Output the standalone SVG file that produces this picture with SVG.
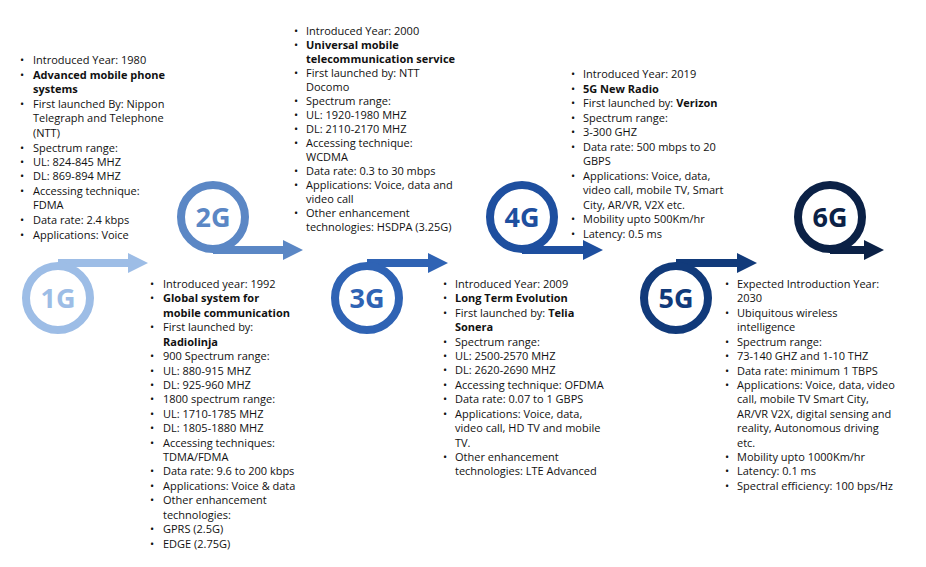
<svg xmlns="http://www.w3.org/2000/svg" width="926" height="567" viewBox="0 0 926 567">
<style>
text{font-family:"Open Sans","Noto Sans",sans-serif;font-size:11px;fill:#111}
.b{font-weight:bold}
text.g{font-size:27px;font-weight:bold;text-anchor:middle}
.ring{fill:none;stroke-width:8}
</style>
<rect width="926" height="567" fill="#fff"/>
<g id="connectors">
<path d="M58,259 H128 V253 L148,263 L128,273 V267 H58Z" fill="#9dbde6"/>
<path d="M213,246 H283 V240 L303,250 L283,260 V254 H213Z" fill="#5b87c5"/>
<path d="M367,259 H428 V253 L448,263 L428,273 V267 H367Z" fill="#2f63b4"/>
<path d="M522,246 H583 V240 L603,250 L583,260 V254 H522Z" fill="#1e4f9f"/>
<path d="M676,259 H737 V253 L757,263 L737,273 V267 H676Z" fill="#113a7a"/>
<path d="M830,246 H864 V240 L884,250 L864,260 V254 H830Z" fill="#0b2146"/>
</g>
<g id="n1g"><circle cx="58" cy="298" r="32" class="ring" stroke="#9dbde6"/><text x="58" y="308" class="g" style="fill:#9dbde6">1G</text></g>
<g id="n2g"><circle cx="213" cy="217" r="32" class="ring" stroke="#5b87c5"/><text x="213" y="227" class="g" style="fill:#5b87c5">2G</text></g>
<g id="n3g"><circle cx="367" cy="298" r="32" class="ring" stroke="#2f63b4"/><text x="367" y="308" class="g" style="fill:#2f63b4">3G</text></g>
<g id="n4g"><circle cx="522" cy="217" r="32" class="ring" stroke="#1e4f9f"/><text x="522" y="227" class="g" style="fill:#1e4f9f">4G</text></g>
<g id="n5g"><circle cx="676" cy="298" r="32" class="ring" stroke="#113a7a"/><text x="676" y="308" class="g" style="fill:#113a7a">5G</text></g>
<g id="n6g"><circle cx="830" cy="217" r="32" class="ring" stroke="#0b2146"/><text x="830" y="227" class="g" style="fill:#0b2146">6G</text></g>

<g id="t1g">
<text x="20" y="64">•</text><text x="33" y="64">Introduced Year: 1980</text>
<text x="20" y="79">•</text><text x="33" y="79" class="b">Advanced mobile phone</text>
<text x="33" y="93" class="b">systems</text>
<text x="20" y="108">•</text><text x="33" y="108">First launched By: Nippon</text>
<text x="33" y="122">Telegraph and Telephone</text>
<text x="33" y="137">(NTT)</text>
<text x="20" y="152">•</text><text x="33" y="152">Spectrum range:</text>
<text x="20" y="166">•</text><text x="33" y="166">UL: 824-845 MHZ</text>
<text x="20" y="180">•</text><text x="33" y="180">DL: 869-894 MHZ</text>
<text x="20" y="195">•</text><text x="33" y="195">Accessing technique:</text>
<text x="33" y="209">FDMA</text>
<text x="20" y="224">•</text><text x="33" y="224">Data rate: 2.4 kbps</text>
<text x="20" y="239">•</text><text x="33" y="239">Applications: Voice</text>
</g>
<g id="t2g">
<text x="150" y="288">•</text><text x="163" y="288">Introduced year: 1992</text>
<text x="150" y="302">•</text><text x="163" y="302" class="b">Global system for</text>
<text x="163" y="317" class="b">mobile communication</text>
<text x="150" y="331">•</text><text x="163" y="331">First launched by:</text>
<text x="163" y="346" class="b">Radiolinja</text>
<text x="150" y="360">•</text><text x="163" y="360">900 Spectrum range:</text>
<text x="150" y="375">•</text><text x="163" y="375">UL: 880-915 MHZ</text>
<text x="150" y="389">•</text><text x="163" y="389">DL: 925-960 MHZ</text>
<text x="150" y="403">•</text><text x="163" y="403">1800 spectrum range:</text>
<text x="150" y="418">•</text><text x="163" y="418">UL: 1710-1785 MHZ</text>
<text x="150" y="432">•</text><text x="163" y="432">DL: 1805-1880 MHZ</text>
<text x="150" y="447">•</text><text x="163" y="447">Accessing techniques:</text>
<text x="163" y="461">TDMA/FDMA</text>
<text x="150" y="475">•</text><text x="163" y="475">Data rate: 9.6 to 200 kbps</text>
<text x="150" y="490">•</text><text x="163" y="490">Applications: Voice &amp; data</text>
<text x="150" y="504">•</text><text x="163" y="504">Other enhancement</text>
<text x="163" y="519">technologies:</text>
<text x="150" y="533">•</text><text x="163" y="533">GPRS (2.5G)</text>
<text x="150" y="548">•</text><text x="163" y="548">EDGE (2.75G)</text>
</g>
<g id="t3g">
<text x="294" y="35">•</text><text x="306" y="35">Introduced Year: 2000</text>
<text x="294" y="49">•</text><text x="306" y="49" class="b">Universal mobile</text>
<text x="306" y="63" class="b">telecommunication service</text>
<text x="294" y="77">•</text><text x="306" y="77">First launched by: NTT</text>
<text x="306" y="91">Docomo</text>
<text x="294" y="105">•</text><text x="306" y="105">Spectrum range:</text>
<text x="294" y="119">•</text><text x="306" y="119">UL: 1920-1980 MHZ</text>
<text x="294" y="133">•</text><text x="306" y="133">DL: 2110-2170 MHZ</text>
<text x="294" y="147">•</text><text x="306" y="147">Accessing technique:</text>
<text x="306" y="161">WCDMA</text>
<text x="294" y="175">•</text><text x="306" y="175">Data rate: 0.3 to 30 mbps</text>
<text x="294" y="189">•</text><text x="306" y="189">Applications: Voice, data and</text>
<text x="306" y="203">video call</text>
<text x="294" y="217">•</text><text x="306" y="217">Other enhancement</text>
<text x="306" y="231">technologies: HSDPA (3.25G)</text>
</g>
<g id="t4g">
<text x="443" y="288">•</text><text x="455" y="288">Introduced Year: 2009</text>
<text x="443" y="302">•</text><text x="455" y="302" class="b">Long Term Evolution</text>
<text x="443" y="317">•</text><text x="455" y="317">First launched by: <tspan class="b">Telia</tspan></text>
<text x="455" y="331" class="b">Sonera</text>
<text x="443" y="346">•</text><text x="455" y="346">Spectrum range:</text>
<text x="443" y="360">•</text><text x="455" y="360">UL: 2500-2570 MHZ</text>
<text x="443" y="374">•</text><text x="455" y="374">DL: 2620-2690 MHZ</text>
<text x="443" y="389">•</text><text x="455" y="389">Accessing technique: OFDMA</text>
<text x="443" y="403">•</text><text x="455" y="403">Data rate: 0.07 to 1 GBPS</text>
<text x="443" y="418">•</text><text x="455" y="418">Applications: Voice, data,</text>
<text x="455" y="432">video call, HD TV and mobile</text>
<text x="455" y="447">TV.</text>
<text x="443" y="461">•</text><text x="455" y="461">Other enhancement</text>
<text x="455" y="475">technologies: LTE Advanced</text>
</g>
<g id="t5g">
<text x="571" y="78">•</text><text x="583" y="78">Introduced Year: 2019</text>
<text x="571" y="93">•</text><text x="583" y="93" class="b">5G New Radio</text>
<text x="571" y="107">•</text><text x="583" y="107">First launched by: <tspan class="b">Verizon</tspan></text>
<text x="571" y="122">•</text><text x="583" y="122">Spectrum range:</text>
<text x="571" y="136">•</text><text x="583" y="136">3-300 GHZ</text>
<text x="571" y="151">•</text><text x="583" y="151">Data rate: 500 mbps to 20</text>
<text x="583" y="165">GBPS</text>
<text x="571" y="180">•</text><text x="583" y="180">Applications: Voice, data,</text>
<text x="583" y="194">video call, mobile TV, Smart</text>
<text x="583" y="209">City, AR/VR, V2X etc.</text>
<text x="571" y="223">•</text><text x="583" y="223">Mobility upto 500Km/hr</text>
<text x="571" y="238">•</text><text x="583" y="238">Latency: 0.5 ms</text>
</g>
<g id="t6g">
<text x="725" y="288">•</text><text x="737" y="288">Expected Introduction Year:</text>
<text x="737" y="302">2030</text>
<text x="725" y="317">•</text><text x="737" y="317">Ubiquitous wireless</text>
<text x="737" y="331">intelligence</text>
<text x="725" y="346">•</text><text x="737" y="346">Spectrum range:</text>
<text x="725" y="360">•</text><text x="737" y="360">73-140 GHZ and 1-10 THZ</text>
<text x="725" y="375">•</text><text x="737" y="375">Data rate: minimum 1 TBPS</text>
<text x="725" y="389">•</text><text x="737" y="389">Applications: Voice, data, video</text>
<text x="737" y="403">call, mobile TV Smart City,</text>
<text x="737" y="418">AR/VR V2X, digital sensing and</text>
<text x="737" y="432">reality, Autonomous driving</text>
<text x="737" y="447">etc.</text>
<text x="725" y="461">•</text><text x="737" y="461">Mobility upto 1000Km/hr</text>
<text x="725" y="475">•</text><text x="737" y="475">Latency: 0.1 ms</text>
<text x="725" y="490">•</text><text x="737" y="490">Spectral efficiency: 100 bps/Hz</text>
</g>
</svg>
